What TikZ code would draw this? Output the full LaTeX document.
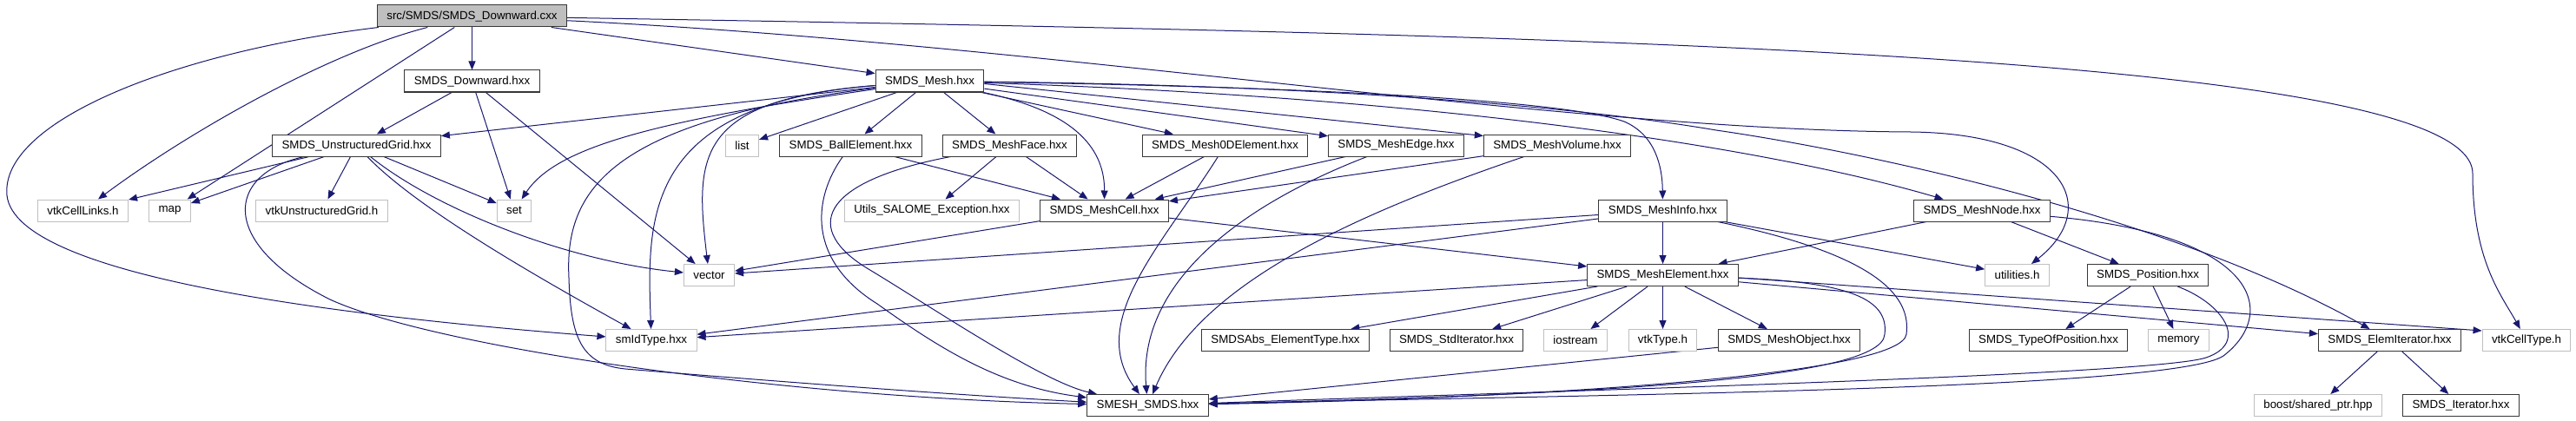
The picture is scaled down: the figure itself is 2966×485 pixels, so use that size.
\documentclass[tikz,border=0pt]{standalone}
\usepackage{fontspec}
\setmainfont{Liberation Sans}
\usepackage{tikz}
\usetikzlibrary{arrows.meta,calc}
\definecolor{edgeblue}{HTML}{191970}
\definecolor{boxgray}{HTML}{BFBFBF}
\definecolor{boxline}{HTML}{383838}
\pgfdeclarelayer{back}
\pgfdeclarelayer{links}
\pgfsetlayers{back,links,main}
\tikzset{
  dep/.style={-{Triangle[length=7.5pt,width=6pt]}, line width=0.75pt, edgeblue},
  hdr/.style={draw=boxline, line width=0.75pt, fill=white, inner xsep=8.2pt, inner ysep=0pt,
    minimum height=18.75pt, font=\fontsize{10pt}{12pt}\selectfont},
  ext/.style={hdr, draw=boxgray},
  src/.style={hdr, fill=boxgray},
}

\begin{document}
\begin{tikzpicture}[x=0.75pt,y=-0.75pt]
  \begin{pgfonlayer}{back}
    \fill[white] (0,0) rectangle (2966,485);
  \end{pgfonlayer}
  \useasboundingbox (0,0) rectangle (2966,485);
  % files
  \node[src] (root) at (543.5,18.5) {src/SMDS/SMDS\_Downward.cxx};
  \node[hdr] (dwn) at (543.5,93.5) {SMDS\_Downward.hxx};
  \node[hdr] (mesh) at (1070.5,93.5) {SMDS\_Mesh.hxx};
  \node[hdr] (ugrid) at (410.5,167.5) {SMDS\_UnstructuredGrid.hxx};
  \node[ext] (list) at (854.5,167.5) {list};
  \node[hdr] (ball) at (979.5,167.5) {SMDS\_BallElement.hxx};
  \node[hdr] (face) at (1162.5,167.5) {SMDS\_MeshFace.hxx};
  \node[hdr] (zeroD) at (1410.5,167.5) {SMDS\_Mesh0DElement.hxx};
  \node[hdr] (meshEdge) at (1607.5,167.5) {SMDS\_MeshEdge.hxx};
  \node[hdr] (volume) at (1793,167.5) {SMDS\_MeshVolume.hxx};
  \node[ext] (cellLinks) at (95.5,242.5) {vtkCellLinks.h};
  \node[ext] (map) at (195.5,242.5) {map};
  \node[ext] (vtkUG) at (370.5,242.5) {vtkUnstructuredGrid.h};
  \node[ext] (set) at (592,242.5) {set};
  \node[ext] (utilsExc) at (1073,242.5) {Utils\_SALOME\_Exception.hxx};
  \node[hdr] (cell) at (1271.5,242.5) {SMDS\_MeshCell.hxx};
  \node[hdr] (info) at (1914.5,242.5) {SMDS\_MeshInfo.hxx};
  \node[hdr] (meshNode) at (2282,242.5) {SMDS\_MeshNode.hxx};
  \node[ext] (vector) at (816.5,317) {vector};
  \node[hdr] (elem) at (1914.5,317) {SMDS\_MeshElement.hxx};
  \node[ext] (utilities) at (2322.5,317) {utilities.h};
  \node[hdr] (position) at (2473,317) {SMDS\_Position.hxx};
  \node[ext] (smId) at (750,392) {smIdType.hxx};
  \node[hdr] (absType) at (1480,392) {SMDSAbs\_ElementType.hxx};
  \node[hdr] (stdIter) at (1677,392) {SMDS\_StdIterator.hxx};
  \node[ext] (iostream) at (1814,392) {iostream};
  \node[ext] (vtkType) at (1914.5,392) {vtkType.h};
  \node[hdr] (object) at (2060,392) {SMDS\_MeshObject.hxx};
  \node[hdr] (typePos) at (2358.5,392) {SMDS\_TypeOfPosition.hxx};
  \node[ext] (memory) at (2508.5,392) {memory};
  \node[hdr] (elemIter) at (2751.5,392) {SMDS\_ElemIterator.hxx};
  \node[ext] (cellType) at (2909,392) {vtkCellType.h};
  \node[hdr] (smesh) at (1321.5,467) {SMESH\_SMDS.hxx};
  \node[ext] (boost) at (2669,467) {boost/shared\_ptr.hpp};
  \node[hdr] (iter) at (2833.5,467) {SMDS\_Iterator.hxx};

  \begin{pgfonlayer}{links}
  % includes of the source file
  \draw[dep] (root) -- (dwn);
  \draw[dep] (root) -- (mesh);
  \draw[dep] (root) .. controls (380,60) and (220,150) .. (cellLinks);
  \draw[dep] (root) -- (map);
  \draw[dep] (root) .. controls (200,60) and (0,140) .. (8,225) .. controls (18,320) and (400,365) .. (smId);
  \draw[dep] (root) .. controls (1200,50) and (1800,150) .. (2200,152) .. controls (2380,154) and (2420,240) .. (utilities);
  \draw[dep] (root) .. controls (1800,40) and (2847,60) .. (2847,200) .. controls (2847,300) and (2880,340) .. (cellType);

  \draw[dep] (dwn) -- (ugrid);
  \draw[dep] (dwn) -- (set);
  \draw[dep] (dwn) -- (vector);

  \draw[dep] (ugrid) -- (cellLinks);
  \draw[dep] (ugrid) -- (map);
  \draw[dep] (ugrid) -- (vtkUG);
  \draw[dep] (ugrid) -- (set);
  \draw[dep] (ugrid) .. controls (500,240) and (650,300) .. (vector);
  \draw[dep] (ugrid) .. controls (480,240) and (620,320) .. (smId);
  \draw[dep] (ugrid) .. controls (260,200) and (250,280) .. (380,345) .. controls (500,400) and (900,458) .. (smesh);

  \draw[dep] (mesh) -- (ugrid);
  \draw[dep] (mesh) .. controls (750,140) and (640,170) .. (set);
  \draw[dep] (mesh) -- (list);
  \draw[dep] (mesh) .. controls (800,115) and (800,180) .. (vector);
  \draw[dep] (mesh) .. controls (740,120) and (745,250) .. (smId);
  \draw[dep] (mesh) .. controls (700,140) and (650,220) .. (655,320) .. controls (657,390) and (670,420) .. (720,425)
    .. controls (900,440) and (1100,455) .. (smesh);
  \draw[dep] (mesh) -- (ball);
  \draw[dep] (mesh) -- (face);
  \draw[dep] (mesh) .. controls (1220,125) and (1272,160) .. (cell);
  \draw[dep] (mesh) -- (zeroD);
  \draw[dep] (mesh) -- (meshEdge);
  \draw[dep] ($(mesh.east)+(0,3)$) -- ($(volume.north west)+(0,2)$);
  \draw[dep] (mesh) .. controls (1500,100) and (1800,115) .. (1870,140) .. controls (1905,155) and (1914,190) .. (info);
  \draw[dep] (mesh) .. controls (1600,110) and (2000,160) .. (meshNode);
  \draw[dep] (mesh) .. controls (1500,98) and (1800,120) .. (1976,150) .. controls (2150,175) and (2500,250) .. (elemIter);

  % element headers
  \draw[dep] (ball) -- (cell);
  \draw[dep] (ball) .. controls (935,230) and (930,300) .. (1010,350) .. controls (1080,400) and (1150,445) .. (smesh);
  \draw[dep] (face) -- (utilsExc);
  \draw[dep] (face) -- (cell);
  \draw[dep] (face) .. controls (940,210) and (925,265) .. (1000,310) .. controls (1070,352) and (1200,440) .. (smesh);
  \draw[dep] (zeroD) -- (cell);
  \draw[dep] (zeroD) .. controls (1340,280) and (1250,370) .. (smesh);
  \draw[dep] (meshEdge) -- (cell);
  \draw[dep] (meshEdge) .. controls (1420,240) and (1310,330) .. (smesh);
  \draw[dep] (volume) -- (cell);
  \draw[dep] (volume) .. controls (1550,250) and (1380,330) .. (smesh);

  \draw[dep] (cell) -- (vector);
  \draw[dep] (cell) -- (elem);

  \draw[dep] (info) -- (vector);
  \draw[dep] (info) -- (smId);
  \draw[dep] (info) -- (elem);
  \draw[dep] (info) -- (utilities);
  \draw[dep] (info) .. controls (2170,295) and (2200,345) .. (2195,385) .. controls (2190,430) and (1800,458) .. (smesh);

  \draw[dep] (meshNode) -- (elem);
  \draw[dep] (meshNode) -- (position);
  \draw[dep] (meshNode) .. controls (2600,270) and (2625,360) .. (2560,410) .. controls (2500,450) and (1800,455) .. (smesh);

  \draw[dep] (elem) -- (smId);
  \draw[dep] (elem) -- (absType);
  \draw[dep] (elem) -- (stdIter);
  \draw[dep] (elem) -- (iostream);
  \draw[dep] (elem) -- (vtkType);
  \draw[dep] (elem) -- (object);
  \draw[dep] (elem) .. controls (2130,325) and (2175,345) .. (2170,385) .. controls (2168,440) and (1800,455) .. (smesh);
  \draw[dep] (elem) -- (elemIter);
  \draw[dep] ($(elem.east)+(0,3)$) -- ($(cellType.north west)+(0,2)$);

  \draw[dep] (object) -- (smesh);
  \draw[dep] (position) -- (typePos);
  \draw[dep] (position) -- (memory);
  \draw[dep] (position) .. controls (2560,350) and (2590,395) .. (2540,412) .. controls (2480,432) and (1800,450) .. (smesh);
  \draw[dep] (elemIter) -- (boost);
  \draw[dep] (elemIter) -- (iter);
  \end{pgfonlayer}
\end{tikzpicture}
\end{document}
